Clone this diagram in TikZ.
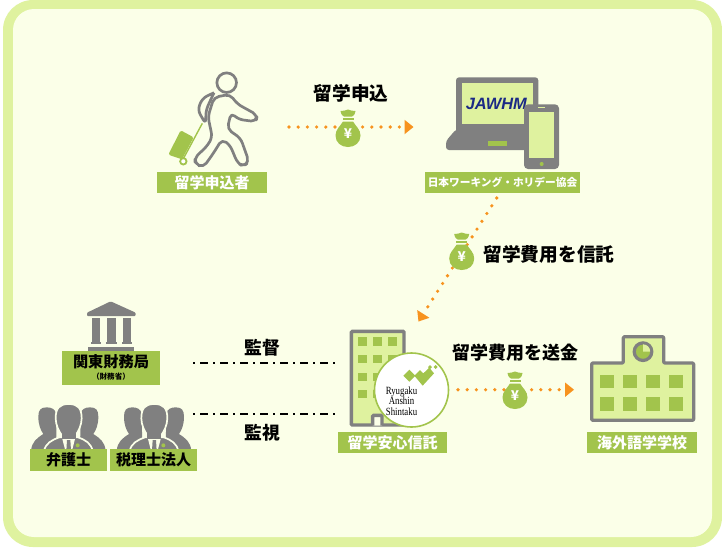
\documentclass[tikz,border=0pt]{standalone}
\usepackage{fontspec}
\setmainfont{Noto Sans CJK JP}
\newfontfamily\latinsans{Liberation Sans}
\newfontfamily\latinserif{Liberation Serif}
\usetikzlibrary{arrows.meta}
\definecolor{gry}{HTML}{808080}
\definecolor{grn}{HTML}{A2C44C}
\definecolor{lite}{HTML}{DFF29F}
\definecolor{paper}{HTML}{FBFFE8}
\definecolor{org}{HTML}{F7931E}
\definecolor{navy}{HTML}{1B2A85}
\tikzset{
  bar/.style={fill=grn,inner sep=0pt,text=white,font=\bfseries\fontsize{15}{15}\selectfont},
  barblack/.style={bar,text=black},
  caption/.style={inner sep=0pt,font=\bfseries\fontsize{18.7}{19}\selectfont},
  flow/.style={org,line width=3.6pt,line cap=round,dash pattern=on 0pt off 9.2pt,-{Triangle[length=9pt,width=14.5pt,fill=org,line width=0pt,round=false]}},
  watch/.style={black,line width=2.3pt,dash pattern=on 2.4pt off 4.8pt on 8pt off 4.8pt},
  yen/.style={text=white,inner sep=0pt,font=\bfseries\fontsize{13.5}{13.5}\selectfont},
  sealtext/.style={inner sep=0pt,xscale=.8,font=\latinserif\fontsize{11}{11}\selectfont},
  zoomed/.style={x=0.33333pt,y=-0.33333pt}
}
\newcommand{\moneybag}[3]{%
  \begin{scope}[shift={(#2,#3)}]
    \fill[grn] (-5,-13) .. controls (-8,-8) and (-12.5,-5) .. (-12.5,1) .. controls (-12.5,8) and (-7,12.5) .. (0,12.5)
      .. controls (7,12.5) and (12.5,8) .. (12.5,1) .. controls (12.5,-5) and (8,-8) .. (5,-13) -- cycle;
    \fill[grn] (-5.5,-17) rectangle (5.5,-14.5);
    \fill[grn] (-7.5,-23.5) .. controls (-4,-22.5) and (-3,-25) .. (0,-25) .. controls (3,-25) and (4,-22.5) .. (7.5,-23.5)
      .. controls (7,-20) and (5,-18) .. (4,-18) -- (-4,-18) .. controls (-5,-18) and (-7,-20) .. (-7.5,-23.5) -- cycle;
    \node[yen] (#1) at (0,-0.5) {¥};
  \end{scope}}
\newcommand{\staffgroup}[1]{%
  \begin{scope}[shift={(#1,0)}]
    \fill[gry] (33,482) .. controls (36,455) and (50,445) .. (70,432) .. controls (62,420) and (55,405) .. (55,380) .. controls (55,360) and (62,352) .. (80,352) .. controls (95,352) and (105,358) .. (108,370) -- (110,482) -- cycle;
    \fill[gry] (257,482) .. controls (254,455) and (240,445) .. (220,432) .. controls (228,420) and (235,405) .. (235,380) .. controls (235,360) and (228,352) .. (210,352) .. controls (195,352) and (185,358) .. (182,370) -- (180,482) -- cycle;
    \fill[gry,draw=paper,line width=1.7pt] (72,484) .. controls (76,460) and (95,450) .. (118,442) -- (174,442) .. controls (197,450) and (214,460) .. (218,484) -- cycle;
    \fill[gry,draw=paper,line width=1.7pt] (107,385) .. controls (107,355) and (118,342) .. (146,342) .. controls (174,342) and (185,355) .. (185,385) .. controls (185,405) and (175,425) .. (165,438) -- (127,438) .. controls (117,425) and (107,405) .. (107,385) -- cycle;
    \fill[gry] (125,428) rectangle (167,447);
    \fill[paper] (127,447) -- (165,447) -- (156,482) -- (136,482) -- cycle;
    \fill[gry] (141,450) -- (151,450) -- (153,482) -- (139,482) -- cycle;
    \fill[grn] (173,466) circle (2pt);
  \end{scope}}
\begin{document}
\begin{tikzpicture}[x=1pt,y=-1pt]
\useasboundingbox (0,0) rectangle (722,547);
\fill[white] (0,0) rectangle (722,547);
\fill[lite,rounded corners=30pt] (3,0) rectangle (722,547);
\fill[paper,rounded corners=21pt] (13,9) rectangle (712,537);

% ---------- traveller
\begin{scope}[shift={(150,60)},zoomed]
  \fill[grn,rounded corners=1.5pt] (92,211) -- (131,232) -- (96,298) -- (55,284) -- cycle;
  \draw[grn,line width=1.4pt] (100,296) -- (157,190);
  \draw[grn,fill=white,line width=1.8pt] (100,304) circle (3.2pt);
  \draw[gry,line width=2.7pt] (230,68) circle (9.8pt);
  \draw[gry,line width=2.7pt,line join=round,rounded corners=5pt,fill=paper]
    (192,112) -- (240,103) -- (262,132) -- (322,165) -- (318,185) -- (265,178) -- (243,158) -- (232,207) -- (272,235) -- (297,305) -- (280,320) -- (262,308) -- (240,255) -- (216,238) -- (190,280) -- (160,322) -- (135,312) -- (135,292) -- (170,260) -- (187,232) -- (174,170) -- cycle;
  \draw[gry,line width=2.7pt,line join=round,rounded corners=5pt] (192,98) -- (157,115) -- (143,150) -- (167,192) -- (168,150) -- (192,98);
\end{scope}
\node[bar,minimum width=110pt,minimum height=21pt] (applicant) at (212,182.5) {留学申込者};

% ---------- laptop and phone
\begin{scope}[shift={(410,60)},zoomed]
  \fill[gry,rounded corners=3pt] (138,52) rectangle (385,230);
  \fill[gry,rounded corners=3pt] (138,208) -- (108,243) -- (108,270) -- (370,270) -- (370,208) -- cycle;
  \fill[lite] (155,70) rectangle (368,192);
  \fill[grn] (233,243) rectangle (290,258);
  \node[text=navy,inner sep=0pt,font=\latinsans\bfseries\itshape\fontsize{16.4}{16.4}\selectfont] (jawhm) at (259,133) {JAWHM};
  \fill[gry,rounded corners=4pt] (342,133) rectangle (447,327);
  \fill[lite] (357,155) rectangle (433,295);
  \fill[lite] (385,141) rectangle (405,144);
  \fill[grn] (395,312) circle (2pt);
\end{scope}
\node[bar,minimum width=155pt,minimum height=21pt,font=\bfseries\fontsize{10.7}{11}\selectfont] (jawhmbar) at (502.5,182.5) {日本ワーキング・ホリデー協会};

% ---------- government building
\begin{scope}[shift={(20,290)},zoomed]
  \fill[gry,rounded corners=1pt] (201,68) -- (272,34) -- (347,68) -- (347,78) -- (201,78) -- cycle;
  \fill[gry] (215,84) rectangle (240,158);
  \fill[gry] (262,84) rectangle (287,158);
  \fill[gry] (308,84) rectangle (333,158);
  \fill[gry] (212,157) rectangle (243,161);
  \fill[gry] (259,157) rectangle (290,161);
  \fill[gry] (305,157) rectangle (336,161);
  \fill[gry] (205,170) rectangle (342,184);
\end{scope}
\node[barblack,minimum width=98pt,minimum height=34pt] (kanto) at (111,368) {};
\node[inner sep=0pt,font=\bfseries\fontsize{15.2}{15}\selectfont] (kantotxt) at (111,361.5) {関東財務局};
\node[inner sep=0pt,font=\bfseries\fontsize{7.6}{8}\selectfont] (kantosub) at (111,376.8) {（財務省）};

% ---------- lawyers and accountants
\begin{scope}[shift={(20,290)},zoomed]
  \staffgroup{0}
  \staffgroup{257}
\end{scope}
\node[barblack,minimum width=77pt,minimum height=22pt] (lawyer) at (68.5,460) {弁護士};
\node[barblack,minimum width=87pt,minimum height=22pt] (taxfirm) at (153.5,460) {税理士法人};

% ---------- trust office
\begin{scope}[shift={(330,320)},zoomed]
  \draw[gry,line width=3.4pt,fill=lite,rounded corners=1pt] (64,34) rectangle (222,315);
  \foreach \wx in {85,130,175}
    \foreach \wy in {52,105,158,210}
      \fill[grn] (\wx,\wy) rectangle ++(27,25);
  \draw[gry,line width=3.4pt,fill=paper,rounded corners=1pt] (128,317) -- (128,286) -- (156,286) -- (156,317);
\end{scope}
\node[circle,draw=grn,fill=white,line width=1.6pt,inner sep=0pt,minimum size=74pt] (trustseal) at (411.5,390) {};
\begin{scope}[shift={(370,355)},zoomed]
  \fill[grn] (100,62) -- (118,44) -- (136,62) -- (118,80) -- cycle;
  \fill[grn] (133,62) -- (150,45) -- (160,55) -- (178,38) -- (192,55) -- (158,92) -- cycle;
  \fill[grn] (174,36) -- (180,30) -- (186,36) -- (180,42) -- cycle;
  \fill[grn] (191,36) -- (197,30) -- (203,36) -- (197,42) -- cycle;
\end{scope}
\node[sealtext,anchor=base] (sealone) at (401.5,394) {Ryugaku};
\node[sealtext,anchor=base] (sealtwo) at (401.5,404.5) {Anshin};
\node[sealtext,anchor=base] (sealthree) at (401.5,415) {Shintaku};
\node[bar,minimum width=109pt,minimum height=21pt] (trustbar) at (392.5,442.5) {留学安心信託};

% ---------- school
\begin{scope}[shift={(490,320)},zoomed]
  \draw[gry,line width=3.2pt,fill=lite,rounded corners=1pt,line join=round] (305,129) -- (400,129) -- (400,50) -- (521,50) -- (521,129) -- (611,129) -- (611,301) -- (305,301) -- cycle;
  \draw[gry,line width=3.2pt,fill=grn] (459,95) circle (8.8pt);
  \fill[lite] (459,95) -- (459,73) arc[start angle=90,end angle=0,radius=7.2pt] -- cycle;
  \foreach \wx in {331,400,469,537}
    \foreach \wy in {164,231}
      \fill[grn] (\wx,\wy) rectangle ++(41,41);
\end{scope}
\node[bar,minimum width=110pt,minimum height=21pt] (schoolbar) at (642,442.5) {海外語学学校};

% ---------- connectors
\coordinate (flowastart) at (289,127);
\coordinate (flowaend) at (413.5,127);
\coordinate (flowbstart) at (496.7,198);
\coordinate (flowbend) at (418.5,321.5);
\coordinate (flowcstart) at (458,389.7);
\coordinate (flowcend) at (574,389.7);
\coordinate (superviseL) at (193,363.3);
\coordinate (superviseR) at (336,363.3);
\coordinate (monitorL) at (193,413.7);
\coordinate (monitorR) at (336,413.7);
\draw[flow] (flowastart) -- (flowaend);
\draw[flow] (flowbstart) -- (flowbend);
\draw[flow] (flowcstart) -- (flowcend);
\draw[watch] (superviseL) -- (superviseR);
\draw[watch] (monitorL) -- (monitorR);

\moneybag{bagA}{348}{134.5}
\moneybag{bagB}{461.7}{257.5}
\moneybag{bagC}{515}{396.5}

% ---------- captions
\node[caption] (capapply) at (351,93.5) {留学申込};
\node[caption] (captrust) at (549,254.5) {留学費用を信託};
\node[caption,font=\bfseries\fontsize{18}{19}\selectfont] (capsend) at (515,353) {留学費用を送金};
\node[caption,font=\bfseries\fontsize{17.8}{18}\selectfont] (capsup) at (262,348) {監督};
\node[caption,font=\bfseries\fontsize{17.8}{18}\selectfont] (capmon) at (262,433) {監視};
\end{tikzpicture}
\end{document}
